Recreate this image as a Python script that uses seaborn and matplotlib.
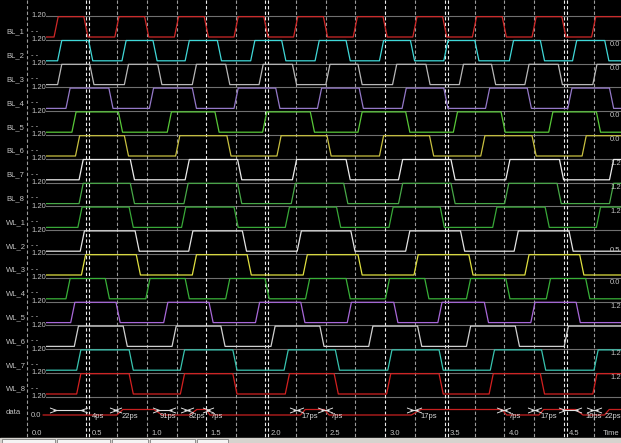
import matplotlib
matplotlib.use("Agg")
import matplotlib.pyplot as plt
import pandas as pd
import seaborn as sns
from matplotlib.patches import Rectangle

# signal names (top to bottom) and trace colours
SIGNALS = ["BL_1", "BL_2", "BL_3", "BL_4", "BL_5", "BL_6", "BL_7", "BL_8",
           "WL_1", "WL_2", "WL_3", "WL_4", "WL_5", "WL_6", "WL_7", "WL_8"]
COLORS = ["#d02828", "#40d8d8", "#b8b8b8", "#9478c8", "#58c838", "#c8c040",
          "#ececec", "#48a848", "#38a838", "#e4e4e4", "#e0e040", "#38b038",
          "#a868d8", "#d0d0d0", "#38c4b0", "#d42020"]

# transition times (ns), every trace starts low
BL_1 = [0.24, 0.49, 0.75, 1.00, 1.25, 1.50, 1.75, 2.00, 2.25, 2.50, 2.75, 3.00,
        3.25, 3.50, 3.75, 4.00, 4.25, 4.50, 4.75]
BL_2 = [0.27, 0.53, 0.81, 1.07, 1.34, 1.61, 1.89, 2.15, 2.43, 2.69, 2.97, 3.23,
        3.51, 3.77, 4.06, 4.32, 4.59, 4.86]
BL_3 = [0.27, 0.54, 0.83, 1.11, 1.40, 1.68, 1.96, 2.24, 2.52, 2.79, 3.08, 3.36,
        3.64, 3.91, 4.19, 4.47, 4.76]
BL_4 = [0.34, 0.70, 1.04, 1.40, 1.75, 2.10, 2.45, 2.80, 3.16, 3.51, 3.86, 4.21,
        4.55, 4.90]
BL_5 = [0.39, 0.78, 1.19, 1.59, 1.99, 2.39, 2.79, 3.19, 3.59, 3.99, 4.39, 4.79]
BL_6 = [0.42, 0.83, 1.26, 1.69, 2.11, 2.53, 2.97, 3.39, 3.82, 4.25, 4.67]
BL_7 = [0.45, 0.88, 1.34, 1.78, 2.24, 2.69, 3.13, 3.57, 4.03, 4.48, 4.90]
BL_8 = [0.45, 0.88, 1.33, 1.78, 2.23, 2.67, 3.13, 3.57, 4.02, 4.46, 4.90]
WL_1 = [0.44, 0.87, 1.31, 1.75, 2.18, 2.61, 3.05, 3.48, 3.92, 4.36, 4.79]
WL_2 = [0.46, 0.92, 1.37, 1.82, 2.28, 2.73, 3.19, 3.65, 4.10, 4.56]
WL_3 = [0.47, 0.93, 1.40, 1.86, 2.33, 2.79, 3.26, 3.72, 4.19, 4.65]
WL_4 = [0.34, 0.67, 1.01, 1.34, 1.68, 2.01, 2.35, 2.69, 3.02, 3.35, 3.70, 4.03,
        4.37, 4.70]
WL_5 = [0.38, 0.76, 1.16, 1.54, 1.93, 2.31, 2.70, 3.09, 3.46, 3.85, 4.24, 4.62]
WL_6 = [0.41, 0.82, 1.23, 1.64, 2.06, 2.47, 2.88, 3.29, 3.70, 4.11, 4.52]
WL_7 = [0.43, 0.87, 1.30, 1.74, 2.17, 2.60, 3.04, 3.47, 3.90, 4.33, 4.77]
WL_8 = [0.43, 0.87, 1.30, 1.74, 2.18, 2.59, 3.03, 3.47, 3.89, 4.32, 4.76]
EDGES = [BL_1, BL_2, BL_3, BL_4, BL_5, BL_6, BL_7, BL_8,
         WL_1, WL_2, WL_3, WL_4, WL_5, WL_6, WL_7, WL_8]

# "data" row: red trace levels and the white bus segments with delay labels
DATA_T = [0.13, 0.75, 0.80, 1.06, 1.13, 1.36, 1.42, 1.50, 1.53, 2.29, 2.33,
          2.49, 2.53, 3.22, 3.30, 3.98, 4.02, 4.29, 4.33, 4.60, 4.66, 4.84,
          4.88, 5.00]
DATA_LVL = [0, 0, 1, 1, 0, 0, 1, 1, 0, 0, 1, 1, 0, 0, 1, 1, 0, 0, 1, 1, 0, 0,
            1, 1]
BUS_START = [0.21, 0.72, 1.08, 1.31, 1.50, 2.23, 2.46, 3.21, 3.96, 4.22, 4.48, 4.72]
BUS_END = [0.47, 0.76, 1.21, 1.36, 1.53, 2.29, 2.53, 3.28, 4.02, 4.28, 4.62, 4.79]
DELAY_T = [0.54, 0.79, 1.11, 1.35, 1.54, 2.30, 2.54, 3.30, 4.04, 4.30, 4.68, 4.84]
DELAY_TXT = ["4ps", "22ps", "91ps", "82ps", "7ps", "17ps", "7ps", "17ps",
             "7ps", "17ps", "10ps", "22ps"]

# values shown at the right edge
RIGHT_ROWS = ["BL_2", "BL_3", "BL_5", "BL_6", "BL_7", "BL_8", "WL_1", "WL_2",
              "WL_4", "WL_5", "WL_7", "WL_8"]
RIGHT_TXT = ["0.0", "0.0", "0.0", "0.0", "1.2", "1.2", "1.2", "0.5", "0.0",
             "1.2", "1.2", "1.2"]

# time axis
TICKS = [0.0, 0.5, 1.0, 1.5, 2.0, 2.5, 3.0, 3.5, 4.0, 4.5]
TICK_LABELS = ["0.0", "0.5", "1.0", "1.5", "2.0", "2.5", "3.0", "3.5", "4.0", "4.5"]
CURSOR_BRIGHT = [0.49, 0.515, 1.5, 1.99, 2.015, 3.0, 3.5, 3.525, 4.5, 4.525]
CURSOR_DIM = [0.0, 0.75, 1.0, 1.25, 1.75, 2.25, 2.5, 2.75, 3.25, 3.75, 4.0,
              4.25, 4.75]

# layout (screen pixels)
W, H = 621, 443
PX_PER_NS = 119.2
X0_PX = 27.5
ROW_TOP0 = 16.7
ROW_STEP = 23.8
ROW_AMP = 20.3
DATA_AMP = 5.5
BLACK_BOTTOM = 438
T_START = 0.13
T_END = 5.0
RISE = 0.035
FS = 5.5

LABEL_COL = "#c4c4c4"
GRID_COL = "#707070"


def px_to_t(px):
    return (px - X0_PX) / PX_PER_NS


def row_top(i):
    return ROW_TOP0 + ROW_STEP * i


def build_wave(edges):
    ts, lv, cur = [T_START], [0], 0
    for e in edges:
        ts += [e - RISE / 2, e + RISE / 2]
        lv += [cur, 1 - cur]
        cur = 1 - cur
    ts.append(T_END)
    lv.append(cur)
    return ts, lv


sns.set_style("dark", {"axes.facecolor": "black"})
plt.rcParams["font.family"] = ["Liberation Sans Narrow", "Liberation Sans", "DejaVu Sans"]

fig = plt.figure(figsize=(W / 100, H / 100), dpi=100)
fig.patch.set_facecolor("black")
ax = fig.add_axes([0, 0, 1, 1])
ax.set_xlim(px_to_t(0), px_to_t(W))
ax.set_ylim(H, 0)
ax.set_axis_off()
ax.axhspan(0, BLACK_BOTTOM, color="black", zorder=0)

# long-form table of all traces
rows = []
for i, (name, edges) in enumerate(zip(SIGNALS, EDGES)):
    ts, lv = build_wave(edges)
    top = row_top(i)
    for t, v in zip(ts, lv):
        rows.append({"signal": name, "t": t, "y": top + ROW_AMP * (1 - v)})
df = pd.DataFrame(rows)

# row separators / 1.20 reference lines
for i in range(len(SIGNALS) + 1):
    ax.hlines(row_top(i) - 0.8, T_START, T_END, color=GRID_COL, lw=0.8, zorder=1)

# cursor lines
ax.vlines(CURSOR_DIM, 0, BLACK_BOTTOM, color="#9a9a9a", lw=0.8,
          linestyles=(0, (3, 2)), zorder=2)
ax.vlines(CURSOR_BRIGHT, 0, BLACK_BOTTOM, color="#ececec", lw=0.8,
          linestyles=(0, (3, 2)), zorder=2)

sns.lineplot(data=df, x="t", y="y", hue="signal", hue_order=SIGNALS,
             palette=dict(zip(SIGNALS, COLORS)), estimator=None, sort=False,
             legend=False, linewidth=0.9, ax=ax, zorder=3)

# data row
d_top = row_top(len(SIGNALS))
d_base = d_top + 17.5
data_df = pd.DataFrame({"t": DATA_T, "y": [d_base - DATA_AMP * v for v in DATA_LVL]})
sns.lineplot(data=data_df, x="t", y="y", color="#c82020", estimator=None,
             sort=False, linewidth=0.9, ax=ax, zorder=3)
bus_y = d_base - 4.6
ax.hlines([bus_y] * len(BUS_START), BUS_START, BUS_END, color="#e0e0e0", lw=0.8, zorder=4)
sns.scatterplot(x=BUS_START, y=[bus_y] * len(BUS_START), marker="$>$", s=26,
                color="#e0e0e0", linewidth=0, ax=ax, zorder=5)
sns.scatterplot(x=BUS_END, y=[bus_y] * len(BUS_END), marker="$<$", s=26,
                color="#e0e0e0", linewidth=0, ax=ax, zorder=5)
for t, txt in zip(DELAY_T, DELAY_TXT):
    ax.text(t, d_base + 1.5, txt, color="#d8d8d8", fontsize=FS, ha="left",
            va="center", zorder=6)

# left labels
lab_x = px_to_t(31)
for i, name in enumerate(SIGNALS + ["data"]):
    top = row_top(i)
    ax.text(px_to_t(6), top + 15.5, name, color=LABEL_COL, fontsize=FS,
            ha="left", va="center", zorder=6)
    ax.text(lab_x, top - 0.8, "1.20", color=LABEL_COL, fontsize=FS, ha="left",
            va="center", zorder=6,
            bbox=dict(facecolor="black", edgecolor="none", pad=0.3))
    if i < len(SIGNALS):
        ax.text(lab_x, top + 14.5, "- -", color=LABEL_COL, fontsize=FS,
                ha="left", va="center", zorder=6)
ax.text(lab_x, d_base + 0.5, "0.0", color=LABEL_COL, fontsize=FS, ha="left",
        va="center", zorder=6, bbox=dict(facecolor="black", edgecolor="none", pad=0.3))

# right edge values
for name, txt in zip(RIGHT_ROWS, RIGHT_TXT):
    i = SIGNALS.index(name)
    y = row_top(i) + (ROW_AMP - 1 if name == "WL_2" else 4)
    ax.text(px_to_t(610), y, txt, color=LABEL_COL, fontsize=FS, ha="left",
            va="center", zorder=6)

# time axis labels
for t, lab in zip(TICKS, TICK_LABELS):
    ax.text(t + 4.5 / PX_PER_NS, 433.5, lab, color=LABEL_COL, fontsize=FS,
            ha="left", va="center", zorder=6)
ax.text(px_to_t(619), 433.5, "Time", color=LABEL_COL, fontsize=FS,
        ha="right", va="center", zorder=6)

# bottom tab strip
ax.axhspan(BLACK_BOTTOM, H, color="#d6d3ce", zorder=1)
for a, b in [(2, 55), (57, 110), (112, 148), (150, 195), (197, 228)]:
    ax.add_patch(Rectangle((px_to_t(a), BLACK_BOTTOM + 0.8), (b - a) / PX_PER_NS,
                           H - BLACK_BOTTOM, facecolor="#f4f4f4",
                           edgecolor="#808080", lw=0.6, zorder=2))

fig.savefig("out.png", dpi=100, facecolor="black")
